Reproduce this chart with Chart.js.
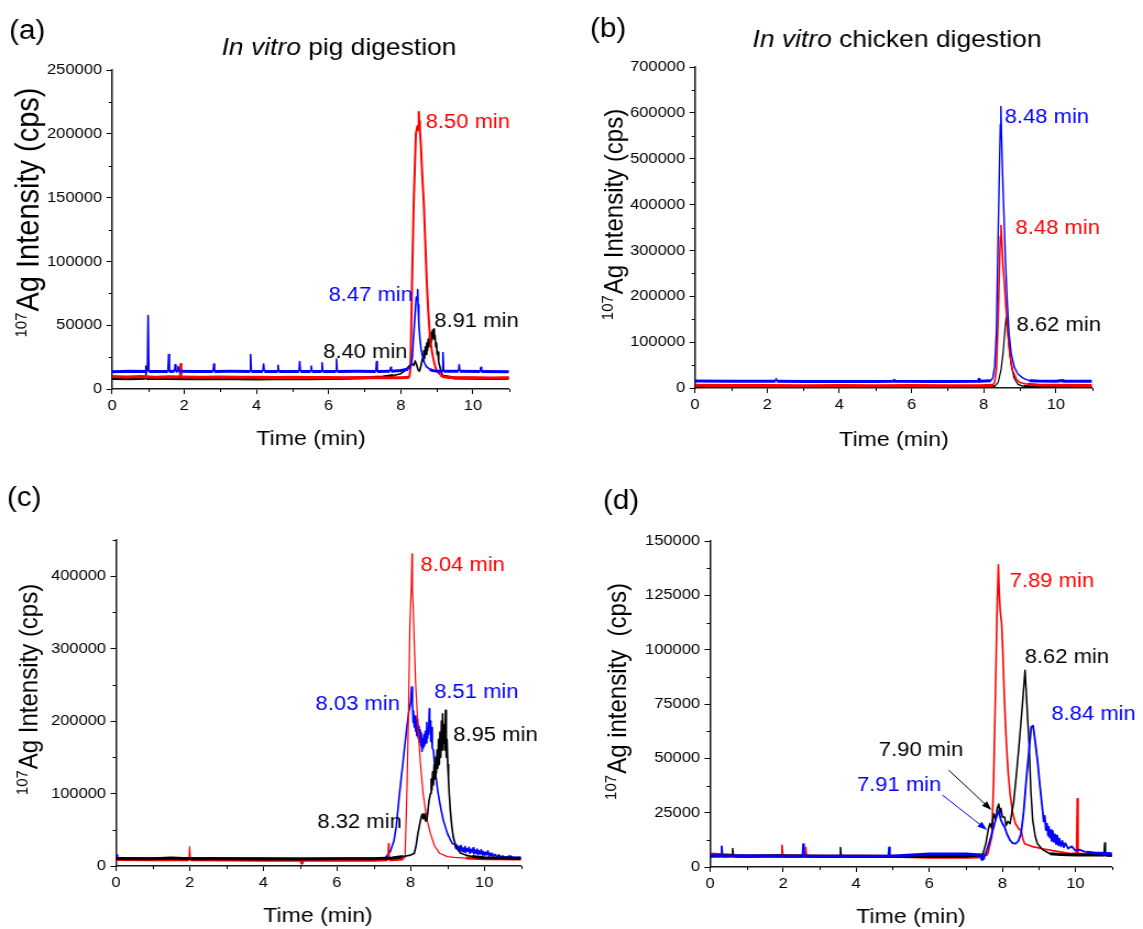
<!DOCTYPE html>
<html>
<head>
<meta charset="utf-8">
<script src="https://cdn.jsdelivr.net/npm/chart.js@4.4.1/dist/chart.umd.min.js"></script>
<style>
  html, body { margin: 0; padding: 0; background: #fff; }
  #fig { position: relative; width: 1143px; height: 929px; overflow: hidden; background: #fff; }
</style>
</head>
<body>
<div id="fig"></div>
<script>
// ---------- chromatogram traces: [time (min), intensity (cps)] ----------

// (a) in vitro pig digestion
const pigRed = [[0,9800],[0.4,9400],[0.8,9700],[1.2,9300],[1.6,9600],[1.88,9400],[1.9,19500],[1.92,9400],[2.5,9300],[3,9500],[3.5,9200],[4,9300],[4.5,9100],[5,9300],[5.5,9000],[6,9100],[6.5,8900],[7,9000],[7.5,8800],[8,8900],[8.24,9200],[8.27,17000],[8.31,80000],[8.36,147000],[8.42,200000],[8.46,206000],[8.48,203000],[8.50,217000],[8.51,210000],[8.53,203000],[8.56,190000],[8.60,165000],[8.64,145000],[8.68,115000],[8.72,85000],[8.76,62000],[8.80,45000],[8.85,32000],[8.90,24000],[8.95,18000],[9.0,14000],[9.1,11000],[9.2,9500],[9.5,8900],[10,8800],[10.5,8700],[11,8800]];
const pigBlack = [[0,8300],[0.5,8100],[0.92,8400],[0.93,18000],[0.95,8300],[1.5,8200],[2,8000],[2.5,8300],[3,8100],[3.5,8000],[4,7900],[4.5,8100],[5,8200],[5.5,8000],[6,8300],[6.5,8500],[7,8800],[7.5,9500],[7.8,10500],[8.0,12000],[8.1,14000],[8.2,17000],[8.3,20000],[8.36,18500],[8.40,22000],[8.44,19000],[8.48,15000],[8.52,14000],[8.56,18000],[8.60,24000],[8.62,22000],[8.64,30000],[8.66,24000],[8.68,33000],[8.70,27000],[8.72,36000],[8.74,30000],[8.76,39000],[8.78,33000],[8.80,42000],[8.82,36000],[8.84,44000],[8.86,38000],[8.88,46000],[8.90,40000],[8.91,47000],[8.93,39000],[8.95,42000],[8.97,33000],[8.99,36000],[9.01,27000],[9.03,29000],[9.05,21000],[9.08,18000],[9.12,13000],[9.18,10000],[9.5,8700],[10,8500],[10.5,8300],[11,8400]];
const pigBlue = [[0,13500],[0.5,13900],[0.98,13800],[1.0,57500],[1.02,13800],[1.55,13800],[1.57,27000],[1.59,13800],[1.73,14000],[1.75,19000],[1.77,14000],[1.81,14000],[1.83,17500],[1.85,14000],[2.3,13700],[2.80,13800],[2.82,19500],[2.84,13800],[3.3,13900],[3.82,13800],[3.84,27000],[3.86,13800],[4.18,13800],[4.2,19500],[4.22,13800],[4.58,13800],[4.6,18500],[4.62,13800],[5.18,13800],[5.2,21500],[5.22,13800],[5.5,13800],[5.52,18000],[5.54,13800],[5.8,13800],[5.82,20500],[5.84,13800],[6.2,13800],[6.22,23500],[6.24,13800],[6.8,13900],[7.31,13800],[7.33,21500],[7.35,13800],[7.7,14000],[7.72,17000],[7.74,14000],[8.0,14500],[8.2,15500],[8.28,18000],[8.32,25000],[8.36,43000],[8.40,60000],[8.43,72000],[8.45,70000],[8.47,78000],[8.48,66000],[8.50,52000],[8.53,40000],[8.56,32000],[8.60,26000],[8.65,21000],[8.71,17500],[8.80,15500],[8.87,14500],[9.0,14000],[9.15,14000],[9.17,28500],[9.19,14000],[9.6,13900],[9.62,19000],[9.64,13900],[10.2,13800],[10.22,17000],[10.24,13800],[11,13600]];
const pigPeaks = [8.50, 8.47, 8.91, 8.40];
const pigYTicks = [0, 50000, 100000, 150000, 200000, 250000];

// (b) in vitro chicken digestion
const chickenBlue = [[0,15000],[1,14500],[2.23,14500],[2.25,21000],[2.27,14500],[3,14200],[4,14000],[5,14300],[5.5,14500],[5.52,17000],[5.54,14500],[6.5,14300],[7,14200],[7.85,14500],[7.87,19000],[7.89,14500],[8.2,16000],[8.25,22000],[8.30,45000],[8.35,120000],[8.40,336000],[8.44,500000],[8.46,575000],[8.47,585000],[8.48,614000],[8.49,560000],[8.52,470000],[8.55,400000],[8.60,280000],[8.65,190000],[8.70,120000],[8.76,75000],[8.85,45000],[8.95,30000],[9.1,21000],[9.26,16000],[9.5,15000],[10,14500],[10.2,16500],[10.22,14500],[11,14500]];
const chickenRed = [[0,6000],[1,5500],[2,5500],[3,5000],[4,5500],[5,5000],[6,5200],[7,5000],[8,5200],[8.25,6000],[8.30,12000],[8.35,40000],[8.40,150000],[8.44,280000],[8.46,330000],[8.48,354000],[8.50,320000],[8.53,270000],[8.57,230000],[8.61,180000],[8.66,130000],[8.72,75000],[8.80,38000],[8.90,20000],[9.0,12000],[9.2,8000],[9.5,6500],[10,5800],[11,5500]];
const chickenBlack = [[0,2500],[4,2000],[8,2000],[8.30,3000],[8.40,12000],[8.48,40000],[8.54,80000],[8.58,120000],[8.62,154000],[8.65,135000],[8.70,90000],[8.76,50000],[8.84,22000],[8.95,8000],[9.1,3500],[9.5,2500],[11,2500]];
const chickenPeaks = [8.48, 8.48, 8.62];
const chickenYTicks = [0, 100000, 200000, 300000, 400000, 500000, 600000, 700000];

// (c)
const panelCRed = [[0,9000],[1,8500],[1.98,8500],[2.0,26700],[2.02,8500],[3,8200],[4,8000],[5.03,7800],[5.05,4000],[5.07,7800],[6,8000],[7,8000],[7.38,8500],[7.40,31000],[7.42,8500],[7.6,9000],[7.8,9500],[7.85,12000],[7.90,100000],[7.94,200000],[7.98,330000],[8.02,385000],[8.04,431000],[8.05,380000],[8.07,360000],[8.10,310000],[8.14,250000],[8.20,192000],[8.27,140000],[8.34,100000],[8.44,65000],[8.54,45000],[8.65,28000],[8.79,17500],[9.0,13000],[9.18,12000],[9.5,11000],[10,10000],[11,9500]];
const panelCBlue = [[0,12000],[0.02,15000],[0.04,10000],[1,10000],[2,10500],[3,10000],[4,10000],[5,9500],[6,9500],[7,9500],[7.3,10500],[7.45,20000],[7.55,35000],[7.61,54000],[7.70,100000],[7.80,146000],[7.90,192000],[7.96,215000],[8.00,225000],[8.03,247000],[8.05,226000],[8.07,198000],[8.08,214000],[8.10,192000],[8.12,207000],[8.14,186000],[8.15,199000],[8.17,180000],[8.19,203000],[8.21,176000],[8.23,193000],[8.24,171000],[8.26,188000],[8.28,166000],[8.29,184000],[8.31,158000],[8.33,176000],[8.35,163000],[8.36,181000],[8.38,166000],[8.40,186000],[8.42,170000],[8.44,198000],[8.46,176000],[8.48,189000],[8.49,182000],[8.51,217000],[8.52,193000],[8.54,200000],[8.55,172000],[8.57,191000],[8.59,163000],[8.62,160000],[8.66,135000],[8.69,123000],[8.75,100000],[8.82,80000],[8.89,63000],[9.0,45000],[9.13,31000],[9.20,30000],[9.23,24000],[9.26,29000],[9.29,22000],[9.32,27000],[9.34,21000],[9.37,28500],[9.40,20000],[9.42,25000],[9.45,19500],[9.48,27000],[9.50,18500],[9.53,24000],[9.56,20500],[9.59,26000],[9.61,17500],[9.64,23000],[9.67,19000],[9.70,25000],[9.72,16500],[9.75,22000],[9.78,17500],[9.81,23500],[9.83,15500],[9.86,21000],[9.89,16500],[9.92,22500],[9.95,15000],[9.98,20000],[10.01,14500],[10.04,19000],[10.07,15500],[10.10,21000],[10.13,13500],[10.16,18000],[10.19,14000],[10.22,17500],[10.25,13000],[10.30,16000],[10.35,12500],[10.40,15500],[10.45,12000],[10.50,14000],[10.6,11500],[10.7,13000],[10.8,11000],[11,11500]];
const panelCBlack = [[0,10500],[1,10000],[1.5,11000],[2,10000],[3,10000],[4,9500],[5,9500],[6,10000],[7,10000],[7.5,11000],[7.8,13000],[8.0,15000],[8.1,17500],[8.15,28000],[8.20,45000],[8.25,58000],[8.30,70000],[8.32,72000],[8.35,65000],[8.38,72000],[8.41,62000],[8.44,63000],[8.47,75000],[8.50,90000],[8.54,100000],[8.56,120000],[8.58,105000],[8.60,130000],[8.62,112000],[8.64,140000],[8.66,120000],[8.68,150000],[8.70,128000],[8.72,160000],[8.74,135000],[8.76,175000],[8.78,140000],[8.80,185000],[8.82,150000],[8.84,200000],[8.86,160000],[8.87,210000],[8.89,170000],[8.91,195000],[8.93,160000],[8.95,215000],[8.97,150000],[8.99,175000],[9.01,140000],[9.03,120000],[9.05,100000],[9.08,77000],[9.12,55000],[9.16,40000],[9.23,27000],[9.35,18000],[9.5,15000],[9.67,13000],[10,11500],[10.5,11000],[11,10500]];
const panelCPeaks = [8.04, 8.03, 8.51, 8.95, 8.32];
const panelCYTicks = [0, 100000, 200000, 300000, 400000];

// (d)
const panelDRed = [[0,6000],[0.5,5500],[1,5000],[1.95,5200],[1.97,10000],[1.99,5000],[2.6,5200],[2.62,9000],[2.64,5000],[3,5000],[4,5000],[5,5000],[6,4500],[7,4500],[7.4,4600],[7.6,6000],[7.71,13800],[7.76,40000],[7.81,79800],[7.85,115000],[7.89,139000],[7.91,128000],[7.94,118000],[7.98,112000],[8.01,100000],[8.06,75000],[8.11,56700],[8.16,43000],[8.21,33700],[8.28,25000],[8.36,19900],[8.45,17500],[8.51,16900],[8.56,13000],[8.61,10700],[8.8,9500],[9.1,8400],[9.5,7200],[9.9,6100],[10.03,6000],[10.05,31400],[10.07,6000],[10.5,5800],[11,5500]];
const panelDBlack = [[0,5000],[0.6,5200],[0.62,8500],[0.64,5000],[1,5000],[2,5200],[3,5000],[3.55,5000],[3.57,9000],[3.59,5000],[4,5000],[5,4800],[6,4800],[7,5000],[7.46,5500],[7.55,11000],[7.61,16900],[7.66,20000],[7.71,18000],[7.76,24500],[7.81,22000],[7.86,27000],[7.90,29000],[7.93,25000],[7.96,27000],[8.00,23000],[8.06,23000],[8.10,19000],[8.15,21000],[8.21,19900],[8.26,25000],[8.31,30000],[8.38,42000],[8.46,56700],[8.54,73000],[8.62,90500],[8.66,78000],[8.73,56700],[8.78,35000],[8.83,21500],[8.90,14000],[8.96,10700],[9.1,8000],[9.3,6100],[9.6,5800],[10,5500],[10.5,5500],[10.78,5500],[10.8,11000],[10.82,5500],[11,5300]];
const panelDBlue = [[0,5500],[0.3,5000],[0.32,9500],[0.34,5000],[1,5200],[2,5000],[2.53,5000],[2.55,10500],[2.57,5000],[3,5000],[4,5000],[4.88,5000],[4.9,9000],[4.92,5000],[6,6000],[7,6000],[7.4,5500],[7.45,3500],[7.51,4600],[7.58,8000],[7.66,12300],[7.74,17000],[7.81,21500],[7.86,24000],[7.91,26000],[7.95,22000],[8.00,20000],[8.06,18400],[8.13,15000],[8.21,12300],[8.28,11000],[8.36,10700],[8.44,12000],[8.51,15300],[8.58,25000],[8.66,41400],[8.72,52000],[8.79,64400],[8.84,65000],[8.88,60000],[8.96,49100],[9.03,37000],[9.10,26000],[9.13,21000],[9.16,23500],[9.19,17000],[9.22,20000],[9.25,14500],[9.27,18500],[9.30,13500],[9.33,17000],[9.35,12000],[9.38,16500],[9.41,11500],[9.44,15000],[9.47,10500],[9.50,14500],[9.53,10000],[9.56,13000],[9.60,9500],[9.64,12000],[9.68,9000],[9.72,11000],[9.80,8500],[9.9,9500],[10.0,7500],[10.1,8000],[10.3,6800],[10.5,6500],[11,6100]];
const panelDPeaks = [7.89, 8.62, 8.84, 7.90, 7.91];
const panelDYTicks = [0, 25000, 50000, 75000, 100000, 125000, 150000];

const timeTicks = [0, 2, 4, 6, 8, 10];

// ---------- drawing ----------
const SX = 1.1;                       // horizontal stretch of every panel
const FONT = '"Liberation Sans", Arial, Helvetica, sans-serif';
const RED = '#ff0000', BLUE = '#0000ff', BLACK = '#000000';
const fmt = t => t.toFixed(2) + ' min';

const panels = [
  {
    box: [0, 0, 571, 460], plot: { left: 112, right: 509, top: 70, bottom: 389 },
    yMax: 250000, yTicks: pigYTicks, yMinor: 25000,
    letter: { text: '(a)', x: 9, y: 32 },
    title: { italic: 'In vitro', rest: ' pig digestion', x: 339, y: 55, size: 24 },
    yTitle: { sup: '107', text: 'Ag Intensity (cps)', x: 39, y: 213, size: 29 },
    xTitle: { x: 311, y: 445 },
    series: [
      { pts: pigBlue, color: BLUE, calm: 16000 },
      { pts: pigRed, color: RED, calm: 12000, width: 2 },
      { pts: pigBlack, color: BLACK, calm: 11000 }
    ],
    labels: [
      { t: pigPeaks[0], color: RED, at: [8.69, 209000] },
      { t: pigPeaks[1], color: BLUE, at: [6.0, 72900] },
      { t: pigPeaks[2], color: BLACK, at: [8.93, 53300] },
      { t: pigPeaks[3], color: BLACK, at: [5.85, 29000] }
    ]
  },
  {
    box: [571, 0, 572, 460], plot: { left: 695, right: 1092, top: 67, bottom: 388 },
    yMax: 700000, yTicks: chickenYTicks, yMinor: 50000,
    letter: { text: '(b)', x: 590, y: 30 },
    title: { italic: 'In vitro', rest: ' chicken digestion', x: 897, y: 47, size: 24 },
    yTitle: { sup: '107', text: 'Ag Intensity (cps)', x: 623, y: 215, size: 24 },
    xTitle: { x: 894, y: 446 },
    series: [
      { pts: chickenBlue, color: BLUE, calm: 20000, width: 1.4 },
      { pts: chickenRed, color: RED, calm: 9000, width: 1.6 },
      { pts: chickenBlack, color: BLACK, calm: 6000, width: 1.2 }
    ],
    labels: [
      { t: chickenPeaks[0], color: BLUE, at: [8.58, 589000] },
      { t: chickenPeaks[1], color: RED, at: [8.88, 346800] },
      { t: chickenPeaks[2], color: BLACK, at: [8.91, 137400] }
    ]
  },
  {
    box: [0, 460, 571, 469], plot: { left: 116, right: 521, top: 540, bottom: 866 },
    yMax: 450000, yTicks: panelCYTicks, yMinor: 50000,
    letter: { text: '(c)', x: 7, y: 499 },
    title: null,
    yTitle: { sup: '107', text: 'Ag Intensity (cps)', x: 37, y: 690, size: 24 },
    xTitle: { x: 318, y: 922 },
    series: [
      { pts: panelCBlack, color: BLACK, calm: 14000, width: 1.6 },
      { pts: panelCRed, color: RED, calm: 12000, width: 1.2 },
      { pts: panelCBlue, color: BLUE, calm: 14000, width: 1.6 }
    ],
    labels: [
      { t: panelCPeaks[0], color: RED, at: [8.27, 415000] },
      { t: panelCPeaks[1], color: BLUE, at: [5.42, 223400] },
      { t: panelCPeaks[2], color: BLUE, at: [8.64, 240000] },
      { t: panelCPeaks[3], color: BLACK, at: [9.16, 180600] },
      { t: panelCPeaks[4], color: BLACK, at: [5.47, 60700] }
    ]
  },
  {
    box: [571, 460, 572, 469], plot: { left: 710, right: 1112, top: 541, bottom: 867 },
    yMax: 150000, yTicks: panelDYTicks, yMinor: 12500,
    letter: { text: '(d)', x: 603, y: 502 },
    title: null,
    yTitle: { sup: '107', text: 'Ag intensity  (cps)', x: 626, y: 692, size: 24 },
    xTitle: { x: 911, y: 923 },
    series: [
      { pts: panelDBlue, color: BLUE, calm: 8000, width: 1.8 },
      { pts: panelDBlack, color: BLACK, calm: 7000, width: 1.5 },
      { pts: panelDRed, color: RED, calm: 7000, width: 1.6 }
    ],
    labels: [
      { t: panelDPeaks[0], color: RED, at: [8.20, 131600] },
      { t: panelDPeaks[1], color: BLACK, at: [8.61, 96200] },
      { t: panelDPeaks[2], color: BLUE, at: [9.34, 70000] },
      { t: panelDPeaks[3], color: BLACK, at: [4.62, 53800] },
      { t: panelDPeaks[4], color: BLUE, at: [4.02, 37700] }
    ],
    arrows: [
      { from: [6.53, 44600], to: [7.70, 26200], color: BLACK },
      { from: [6.36, 33100], to: [7.58, 17000], color: BLUE }
    ]
  }
];

function drawArrow(ctx, x1, y1, x2, y2, color) {
  const a = Math.atan2(y2 - y1, x2 - x1), L = 9, w = 3.2;
  ctx.strokeStyle = color; ctx.fillStyle = color; ctx.lineWidth = 1;
  ctx.beginPath(); ctx.moveTo(x1, y1);
  ctx.lineTo(x2 - L * 0.8 * Math.cos(a), y2 - L * 0.8 * Math.sin(a)); ctx.stroke();
  ctx.beginPath();
  ctx.moveTo(x2, y2);
  ctx.lineTo(x2 - L * Math.cos(a) + w * Math.sin(a), y2 - L * Math.sin(a) - w * Math.cos(a));
  ctx.lineTo(x2 - L * Math.cos(a) - w * Math.sin(a), y2 - L * Math.sin(a) + w * Math.cos(a));
  ctx.closePath(); ctx.fill();
}

function decorPlugin(p) {
  const ix = x => (x - p.box[0]) / SX;
  const iy = y => y - p.box[1];
  return {
    id: 'decor',
    afterDraw(chart) {
      const ctx = chart.ctx, xs = chart.scales.x, ys = chart.scales.y;
      ctx.save();
      // minor ticks
      ctx.strokeStyle = '#000'; ctx.lineWidth = 1;
      ctx.beginPath();
      for (let v = p.yMinor; v <= p.yMax; v += p.yMinor) {
        if (p.yTicks.includes(v)) continue;
        const y = Math.round(ys.getPixelForValue(v)) + 0.5;
        ctx.moveTo(ys.right - 3, y); ctx.lineTo(ys.right, y);
      }
      for (let t = 1; t <= 11; t += 2) {
        const x = Math.round(xs.getPixelForValue(t)) + 0.5;
        ctx.moveTo(x, xs.top); ctx.lineTo(x, xs.top + 3);
      }
      ctx.stroke();

      ctx.fillStyle = '#000'; ctx.textAlign = 'left';
      // panel letter
      ctx.font = `27px ${FONT}`; ctx.textBaseline = 'middle';
      ctx.fillText(p.letter.text, ix(p.letter.x), iy(p.letter.y));
      // panel title, partly italic
      if (p.title) {
        const t = p.title;
        ctx.textBaseline = 'alphabetic';
        ctx.font = `italic ${t.size}px ${FONT}`; const w1 = ctx.measureText(t.italic).width;
        ctx.font = `${t.size}px ${FONT}`; const w2 = ctx.measureText(t.rest).width;
        const x0 = ix(t.x) - (w1 + w2) / 2;
        ctx.font = `italic ${t.size}px ${FONT}`; ctx.fillText(t.italic, x0, iy(t.y));
        ctx.font = `${t.size}px ${FONT}`; ctx.fillText(t.rest, x0 + w1, iy(t.y));
      }
      // x axis title
      ctx.font = `21px ${FONT}`; ctx.textAlign = 'center'; ctx.textBaseline = 'alphabetic';
      ctx.fillText('Time (min)', ix(p.xTitle.x), iy(p.xTitle.y));
      // y axis title with isotope superscript
      {
        const yt = p.yTitle, f = yt.size, fs = 15;
        ctx.save();
        ctx.translate(ix(yt.x), iy(yt.y)); ctx.rotate(-Math.PI / 2);
        ctx.textAlign = 'left'; ctx.textBaseline = 'alphabetic';
        ctx.font = `${f}px ${FONT}`; const mw = ctx.measureText(yt.text).width;
        ctx.font = `${fs}px ${FONT}`; const sw = ctx.measureText(yt.sup).width;
        const x0 = -(mw + sw) / 2;
        ctx.fillText(yt.sup, x0, -f * 0.38);
        ctx.font = `${f}px ${FONT}`; ctx.fillText(yt.text, x0 + sw + 1, 0);
        ctx.restore();
      }
      // retention-time labels
      ctx.font = `20px ${FONT}`; ctx.textAlign = 'left'; ctx.textBaseline = 'middle';
      p.labels.forEach(l => {
        ctx.fillStyle = l.color;
        ctx.fillText(fmt(l.t), xs.getPixelForValue(l.at[0]), ys.getPixelForValue(l.at[1]));
      });
      // pointer arrows
      (p.arrows || []).forEach(a => drawArrow(ctx,
        xs.getPixelForValue(a.from[0]), ys.getPixelForValue(a.from[1]),
        xs.getPixelForValue(a.to[0]), ys.getPixelForValue(a.to[1]), a.color));
      ctx.restore();
    }
  };
}

const fig = document.getElementById('fig');
panels.forEach(p => {
  const W = Math.round(p.box[2] / SX), H = p.box[3];
  const L = (p.plot.left - p.box[0]) / SX, R = (p.plot.right - p.box[0]) / SX;
  const T = p.plot.top - p.box[1], B = p.plot.bottom - p.box[1];
  const cv = document.createElement('canvas');
  cv.width = W; cv.height = H;
  cv.style.cssText = `position:absolute;left:${p.box[0]}px;top:${p.box[1]}px;width:${W}px;height:${H}px;transform:scaleX(${SX});transform-origin:0 0;`;
  fig.appendChild(cv);

  const tickFont = { family: FONT, size: 15 };
  new Chart(cv, {
    type: 'line',
    data: {
      datasets: p.series.map((s, i) => ({
        data: s.pts.map(([x, y]) => ({ x, y })),
        borderColor: s.color,
        borderWidth: s.width || 1.6,
        borderJoinStyle: 'round',
        pointRadius: 0,
        tension: 0,
        fill: false,
        order: i,
        segment: {
          borderWidth: c => (c.p0.parsed.y < s.calm && c.p1.parsed.y < s.calm) ? 3 : (s.width || 1.6)
        }
      }))
    },
    options: {
      responsive: false,
      animation: false,
      devicePixelRatio: 1,
      events: [],
      layout: { padding: { left: 0, top: T, right: W - R, bottom: 0 } },
      plugins: { legend: { display: false }, tooltip: { enabled: false }, title: { display: false } },
      scales: {
        x: {
          type: 'linear', min: 0, max: 11,
          afterBuildTicks: s => { s.ticks = timeTicks.map(v => ({ value: v })); },
          ticks: { font: tickFont, color: '#000', padding: 3, maxRotation: 0, autoSkip: false },
          grid: { drawOnChartArea: false, drawTicks: true, tickLength: 5, tickColor: '#000', tickWidth: 1 },
          border: { display: true, color: '#1a1a1a', width: 1.5 },
          afterFit: s => { s.height = H - B; }
        },
        y: {
          type: 'linear', min: 0, max: p.yMax,
          afterBuildTicks: s => { s.ticks = p.yTicks.map(v => ({ value: v })); },
          ticks: { font: tickFont, color: '#000', padding: 4, autoSkip: false, callback: v => String(v) },
          grid: { drawOnChartArea: false, drawTicks: true, tickLength: 5, tickColor: '#000', tickWidth: 1 },
          border: { display: true, color: '#1a1a1a', width: 1.5 },
          afterFit: s => { s.width = L; }
        }
      }
    },
    plugins: [decorPlugin(p)]
  });
});
</script>
</body>
</html>
